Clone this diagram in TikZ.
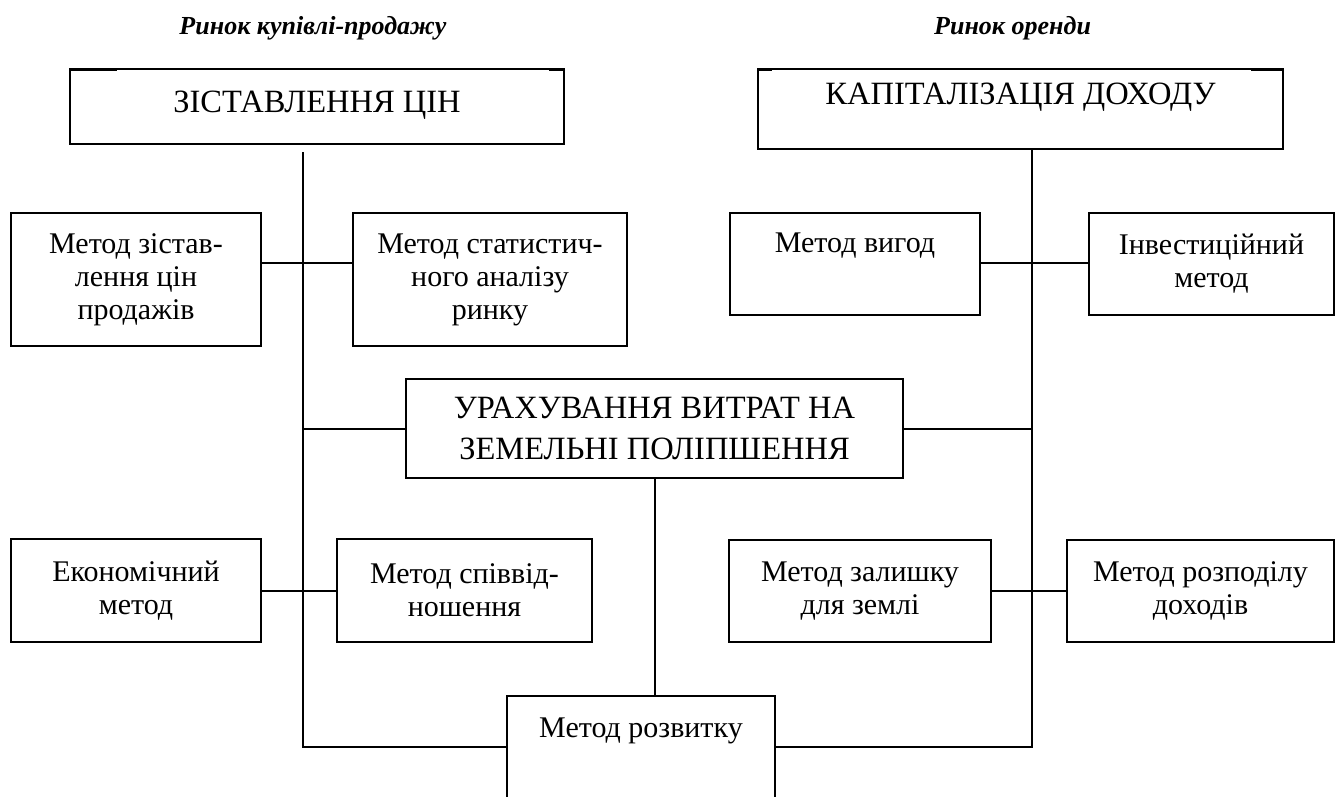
\documentclass[tikz,border=0pt]{standalone}
\usepackage{fontspec}
\setmainfont{Liberation Serif}
\newcommand\bigtxt{\fontsize{32.5}{41}\selectfont}
\newcommand\smtxt{\fontsize{30}{33}\selectfont}
\newcommand\ttltxt{\fontsize{26}{30}\selectfont\bfseries\itshape}
\begin{document}
\begin{tikzpicture}[x=1pt,y=-1pt,
  box/.style={draw, line width=2pt, inner sep=0pt, align=center},
  bigbox/.style={box, font=\bigtxt},
  smbox/.style={box, font=\smtxt},
  lift/.style={text height=20pt, text depth=#1},
  ttl/.style={font=\ttltxt, inner sep=0pt},
  conn/.style={line width=2pt}]
\useasboundingbox (0,0) rectangle (1338,797);
% titles
\node[ttl] (t1) at (313,28) {Ринок купівлі-продажу};
\node[ttl, anchor=west] (t2) at (934,28) {Ринок оренди};
% top boxes
\node[bigbox, minimum width=494pt, minimum height=75pt, lift=7pt] (zc) at (317,106.5) {ЗІСТАВЛЕННЯ ЦІН};
\node[bigbox, minimum width=525pt, minimum height=80pt, lift=28pt] (kd) at (1020.5,109) {КАПІТАЛІЗАЦІЯ ДОХОДУ};
% first row
\node[smbox, minimum width=250pt, minimum height=133pt] (m1) at (136,279.5) {Метод зістав-\\лення цін\\продажів};
\node[smbox, minimum width=274pt, minimum height=133pt] (m2) at (490,279.5) {Метод статистич-\\ного аналізу\\ринку};
\node[smbox, minimum width=250pt, minimum height=102pt, lift=44pt] (m3) at (855,264) {Метод вигод};
\node[smbox, minimum width=245pt, minimum height=102pt] (m4) at (1211.5,264) {Інвестиційний\\метод};
% middle
\node[bigbox, minimum width=497pt, minimum height=99pt] (ur) at (654.5,428.5) {УРАХУВАННЯ ВИТРАТ НА\\ЗЕМЕЛЬНІ ПОЛІПШЕННЯ};
% second row
\node[smbox, minimum width=250pt, minimum height=103pt] (m5) at (136,590.5) {Економічний\\метод};
\node[smbox, minimum width=255pt, minimum height=103pt] (m6) at (464.5,590.5) {Метод співвід-\\ношення};
\node[smbox, minimum width=262pt, minimum height=102pt] (m7) at (860,591) {Метод залишку\\для землі};
\node[smbox, minimum width=267pt, minimum height=102pt] (m8) at (1200.5,591) {Метод розподілу\\доходів};
% bottom
\node[smbox, minimum width=268pt, minimum height=114pt, lift=52pt] (rz) at (641,753) {Метод розвитку};
% helper coordinates on the two trunks
\coordinate (ltop) at (303,152);
\coordinate (lbot) at (303,747);
\coordinate (rtop) at (1032,150);
\coordinate (rbot) at (1032,747);
\coordinate (lr1) at (303,263);
\coordinate (rr1) at (1032,263);
\coordinate (lr2) at (303,591);
\coordinate (rr2) at (1032,591);
% trunks
\draw[conn] (ltop) -- (lbot) -- (rz.west |- lbot);
\draw[conn] (rtop) -- (rbot) -- (rz.east |- rbot);
% branches
\draw[conn] (m1.east |- lr1) -- (m2.west |- lr1);
\draw[conn] (m3.east |- rr1) -- (m4.west |- rr1);
\draw[conn] (m5.east |- lr2) -- (m6.west |- lr2);
\draw[conn] (m7.east |- rr2) -- (m8.west |- rr2);
\draw[conn] (ur.west -| ltop) -- (ur.west);
\draw[conn] (ur.east) -- (ur.east -| rtop);
\draw[conn] (ur.south) -- (ur.south |- rz.north);
% small top-edge fragments
\draw[conn] ([yshift=-2pt]zc.north west) -- ++(48,0);
\draw[conn] ([yshift=-2pt]zc.north east) -- ++(-16,0);
\draw[conn] ([yshift=-2pt]kd.north west) -- ++(15,0);
\draw[conn] ([yshift=-2pt]kd.north east) -- ++(-33,0);
\end{tikzpicture}
\end{document}
